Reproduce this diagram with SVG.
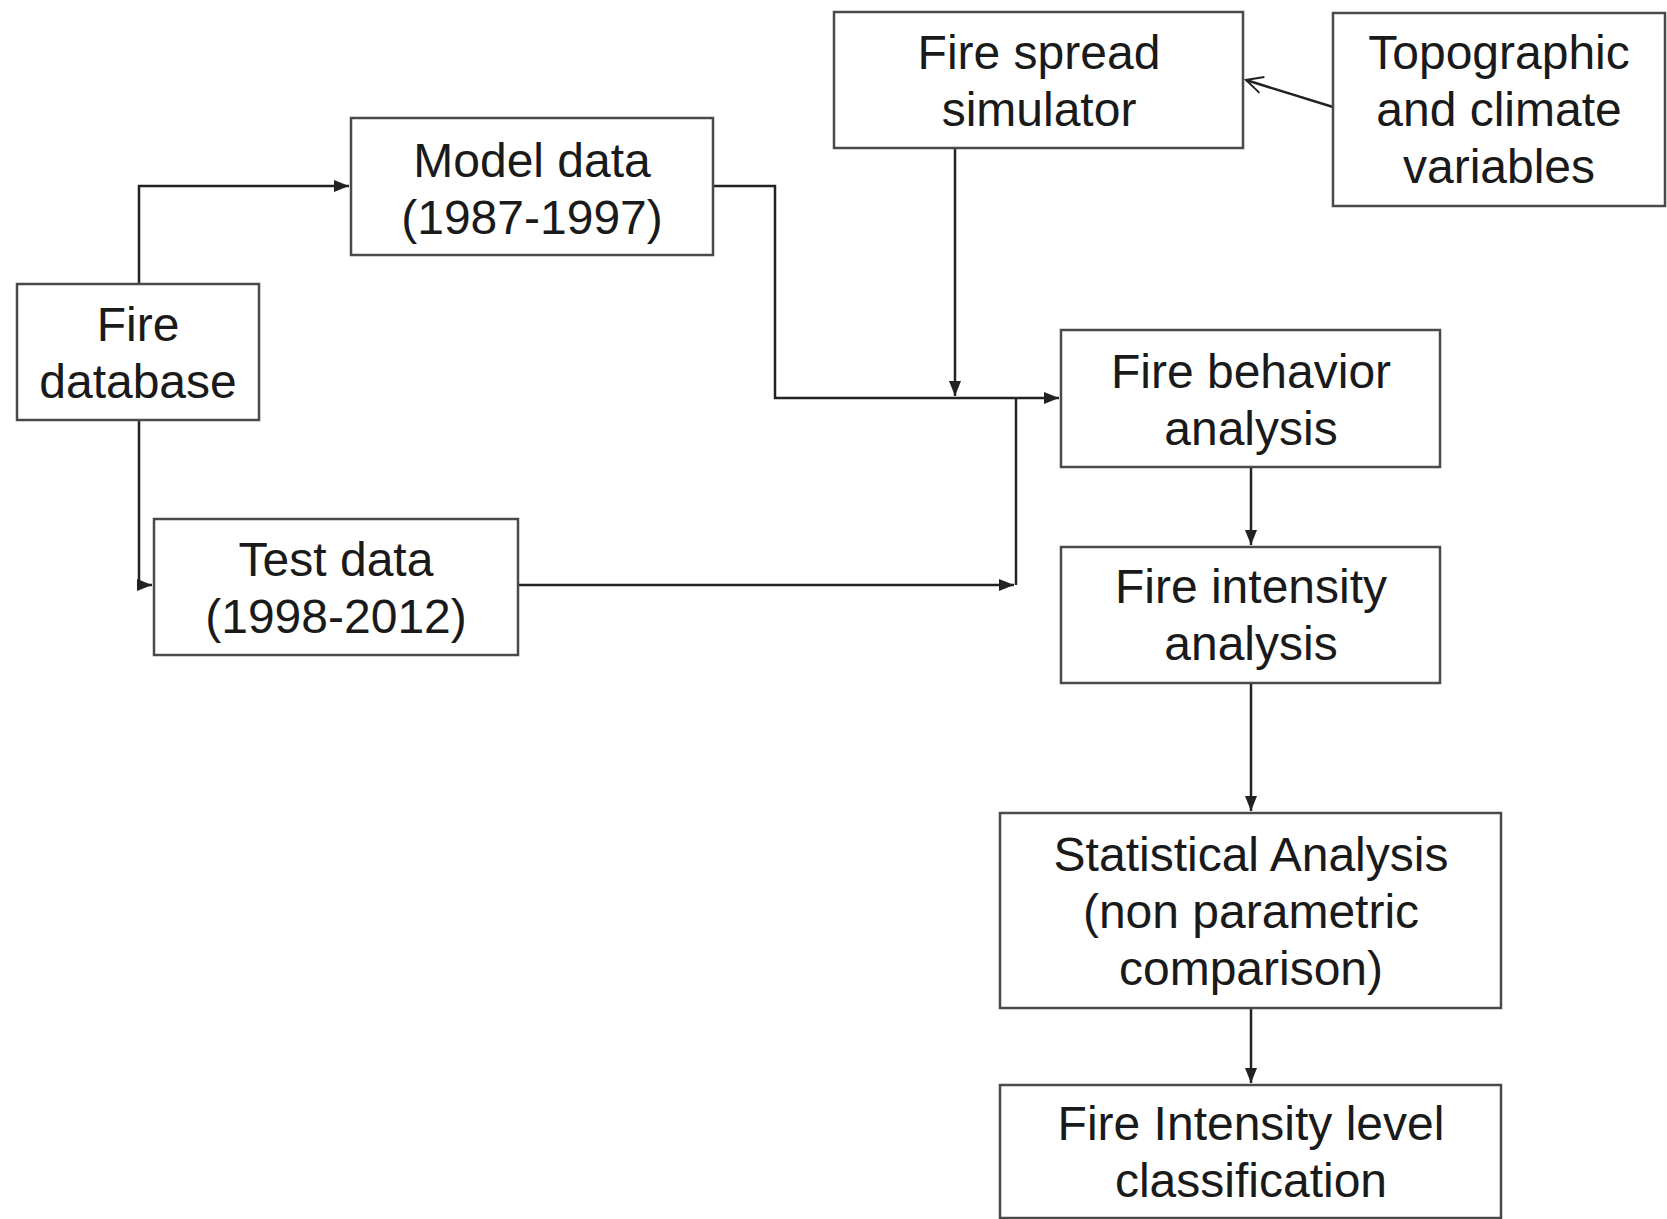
<svg xmlns="http://www.w3.org/2000/svg" width="1667" height="1219" viewBox="0 0 1667 1219">
<style>
.box{fill:#fff;stroke:#4a4a4a;stroke-width:2.5}
.t{font-family:"Liberation Sans",Arial,sans-serif;font-size:48px;fill:#1a1a1a;text-anchor:middle}
.c{fill:none;stroke:#222;stroke-width:2.5}
</style>
<defs>
<marker id="ah" viewBox="0 0 10 10" refX="10" refY="5" markerWidth="6" markerHeight="6" orient="auto" markerUnits="strokeWidth">
<path d="M0,1 L10,5 L0,9 z" fill="#222"/>
</marker>
<marker id="oa" viewBox="0 0 12 12" refX="11" refY="6" markerWidth="20" markerHeight="20" orient="auto" markerUnits="userSpaceOnUse">
<path d="M1,1 L11,6 L1,11" fill="none" stroke="#222" stroke-width="1.2"/>
</marker>
</defs>
<rect width="1667" height="1219" fill="#fff"/>
<g id="connectors">
<path class="c" d="M139,284 V186 H349" marker-end="url(#ah)"/>
<path class="c" d="M139,420 V585 H152" marker-end="url(#ah)"/>
<path class="c" d="M713,186 H775 V398 H1059" marker-end="url(#ah)"/>
<path class="c" d="M955,148 V396" marker-end="url(#ah)"/>
<path class="c" d="M518,585 H1014" marker-end="url(#ah)"/>
<path class="c" d="M1016,585 V398"/>
<path class="c" d="M1333,107 L1246,80" marker-end="url(#oa)"/>
<path class="c" d="M1251,467 V545" marker-end="url(#ah)"/>
<path class="c" d="M1251,683 V811" marker-end="url(#ah)"/>
<path class="c" d="M1251,1008 V1083" marker-end="url(#ah)"/>
</g>
<g id="fire-database"><rect class="box" x="17" y="284" width="242" height="136"/><text class="t" x="138" y="341">Fire</text><text class="t" x="138" y="398">database</text></g>
<g id="model-data"><rect class="box" x="351" y="118" width="362" height="137"/><text class="t" x="532" y="177">Model data</text><text class="t" x="532" y="234">(1987-1997)</text></g>
<g id="test-data"><rect class="box" x="154" y="519" width="364" height="136"/><text class="t" x="336" y="576">Test data</text><text class="t" x="336" y="633">(1998-2012)</text></g>
<g id="fire-spread-simulator"><rect class="box" x="834" y="12" width="409" height="136"/><text class="t" x="1039" y="69">Fire spread</text><text class="t" x="1039" y="126">simulator</text></g>
<g id="topographic"><rect class="box" x="1333" y="13" width="332" height="193"/><text class="t" x="1499" y="69">Topographic</text><text class="t" x="1499" y="126">and climate</text><text class="t" x="1499" y="183">variables</text></g>
<g id="fire-behavior"><rect class="box" x="1061" y="330" width="379" height="137"/><text class="t" x="1251" y="388">Fire behavior</text><text class="t" x="1251" y="445">analysis</text></g>
<g id="fire-intensity"><rect class="box" x="1061" y="547" width="379" height="136"/><text class="t" x="1251" y="603">Fire intensity</text><text class="t" x="1251" y="660">analysis</text></g>
<g id="statistical-analysis"><rect class="box" x="1000" y="813" width="501" height="195"/><text class="t" x="1251" y="871">Statistical Analysis</text><text class="t" x="1251" y="928">(non parametric</text><text class="t" x="1251" y="985">comparison)</text></g>
<g id="fire-intensity-level"><rect class="box" x="1000" y="1085" width="501" height="133"/><text class="t" x="1251" y="1140">Fire Intensity level</text><text class="t" x="1251" y="1197">classification</text></g>
</svg>
